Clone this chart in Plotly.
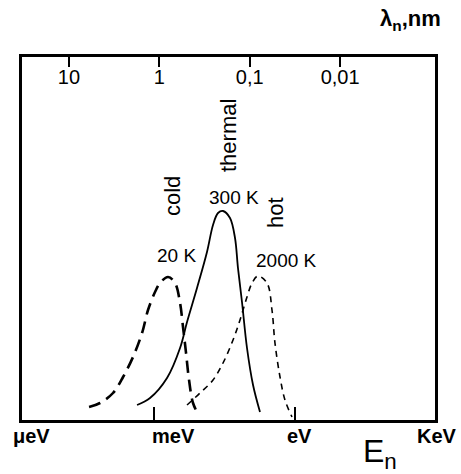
import math
import plotly.graph_objects as go

# Neutron energy (eV) and relative flux (a.u.)
cold_E = [4.14e-5, 7.10e-5, 1.34e-4, 2.19e-4, 3.57e-4, 5.56e-4, 7.45e-4, 1.05e-3, 1.34e-3,
          1.99e-3, 2.80e-3, 3.58e-3, 4.14e-3, 4.80e-3, 5.56e-3, 6.76e-3, 8.63e-3]
cold_I = [13, 17, 27, 43, 63, 87, 110, 128, 137, 143, 137, 117, 93, 67, 40, 17, 6]

thermal_E = [4.35e-4, 8.22e-4, 1.89e-3, 3.58e-3, 5.04e-3, 8.22e-3, 1.34e-2, 1.80e-2, 2.30e-2,
             2.94e-2, 4.14e-2, 5.29e-2, 6.12e-2, 7.45e-2, 9.52e-2, 0.128, 0.180]
thermal_I = [15, 22, 42, 72, 98, 132, 168, 195, 207, 209, 202, 182, 152, 118, 72, 35, 8]

hot_E = [5.04e-3, 9.52e-3, 1.80e-2, 2.94e-2, 4.80e-2, 6.76e-2, 9.52e-2, 0.122, 0.163,
         0.254, 0.324, 0.375, 0.480, 0.612, 0.863]
hot_I = [15, 27, 40, 57, 80, 100, 123, 137, 144, 137, 110, 77, 43, 20, 3]

# Axis ticks
energy_ticks = [1e-3, 1]
energy_labels = ["μeV", "meV", "eV", "KeV"]
energy_label_vals = [1e-6, 1e-3, 1, 1e3]
wavelength_ticks = [10, 1, 0.1, 0.01]
wavelength_labels = ["10", "1", "0,1", "0,01"]

# Curve labels
temp_labels = ["20 K", "300 K", "2000 K"]
region_labels = ["cold", "thermal", "hot"]

FONT = "Liberation Sans, Arial, sans-serif"
E_RANGE = [-5.81, 2.98]

fig = go.Figure()
fig.add_trace(go.Scatter(x=cold_E, y=cold_I, mode="lines", line_shape="spline",
                         line=dict(color="black", width=2.6, dash="12px,7px"), hoverinfo="skip"))
fig.add_trace(go.Scatter(x=thermal_E, y=thermal_I, mode="lines", line_shape="spline",
                         line=dict(color="black", width=1.8), hoverinfo="skip"))
fig.add_trace(go.Scatter(x=hot_E, y=hot_I, mode="lines", line_shape="spline",
                         line=dict(color="black", width=1.6, dash="6px,5px"), hoverinfo="skip"))
# invisible trace on the wavelength axis so it is drawn
fig.add_trace(go.Scatter(x=[1], y=[0], xaxis="x2", mode="markers",
                         marker=dict(opacity=0), hoverinfo="skip"))

annos = []
# temperature labels, placed above each curve's peak
for lab, E, I, dx, dy in [
    (temp_labels[0], cold_E, cold_I, 8, 22),
    (temp_labels[1], thermal_E, thermal_I, 11, 14),
    (temp_labels[2], hot_E, hot_I, 29, 16),
]:
    k = I.index(max(I))
    annos.append(dict(x=math.log10(E[k]), y=I[k], xref="x", yref="y", text=lab,
                      showarrow=False, xshift=dx, yshift=dy, xanchor="center", yanchor="middle",
                      font=dict(family=FONT, size=19, color="black")))
# region labels (rotated)
for lab, E, I, dx, dy in [
    (region_labels[0], cold_E, cold_I, 4, 81),
    (region_labels[1], thermal_E, thermal_I, 5, 75),
    (region_labels[2], hot_E, hot_I, 17, 64),
]:
    k = I.index(max(I))
    annos.append(dict(x=math.log10(E[k]), y=I[k], xref="x", yref="y", text=lab,
                      showarrow=False, textangle=-90, xshift=dx, yshift=dy,
                      xanchor="center", yanchor="middle",
                      font=dict(family=FONT, size=22, color="black")))
# energy unit labels below bottom axis
shifts = [18, 19, 5, 1]
for lab, v, s in zip(energy_labels, energy_label_vals, shifts):
    px = (math.log10(v) - E_RANGE[0]) / (E_RANGE[1] - E_RANGE[0])
    annos.append(dict(x=px, y=0, xref="paper", yref="paper", text="<b>%s</b>" % lab,
                      showarrow=False, xshift=s, yshift=-16, xanchor="center", yanchor="middle",
                      font=dict(family=FONT, size=20, color="black")))
# axis titles
annos.append(dict(x=0.94, y=1.0, xref="paper", yref="paper", yshift=37,
                  xanchor="center", yanchor="middle",
                  text="<b>λ<sub>n</sub>,nm</b>", showarrow=False,
                  font=dict(family=FONT, size=22, color="black")))
annos.append(dict(x=0.867, y=0.0, xref="paper", yref="paper", yshift=-33,
                  xanchor="center", yanchor="middle",
                  text="E<sub>n</sub>", showarrow=False,
                  font=dict(family=FONT, size=32, color="black")))

fig.update_layout(
    width=461, height=474,
    margin=dict(l=22, r=26, t=57, b=54),
    paper_bgcolor="white", plot_bgcolor="white",
    showlegend=False,
    xaxis=dict(type="log", range=E_RANGE, tickvals=energy_ticks, showticklabels=False,
               ticks="inside", ticklen=13, tickwidth=2, tickcolor="black",
               showgrid=False, zeroline=False, showline=True, linecolor="black", linewidth=2.5),
    xaxis2=dict(type="log", overlaying="x", side="top", anchor="y", range=[1.52, -3.05],
                tickvals=wavelength_ticks, ticktext=wavelength_labels,
                ticks="inside", ticklen=10, tickwidth=2, tickcolor="black",
                ticklabelposition="inside", ticklabelstandoff=4,
                tickfont=dict(family=FONT, size=20, color="black"),
                showgrid=False, zeroline=False, showline=True, linecolor="black", linewidth=2.5),
    yaxis=dict(range=[0, 363], showticklabels=False, ticks="", showgrid=False, zeroline=False,
               showline=True, mirror=True, linecolor="black", linewidth=2.5),
    annotations=annos,
)

fig.write_html("out.html", config={"displayModeBar": False},
               post_script="document.body.style.margin='0';")
